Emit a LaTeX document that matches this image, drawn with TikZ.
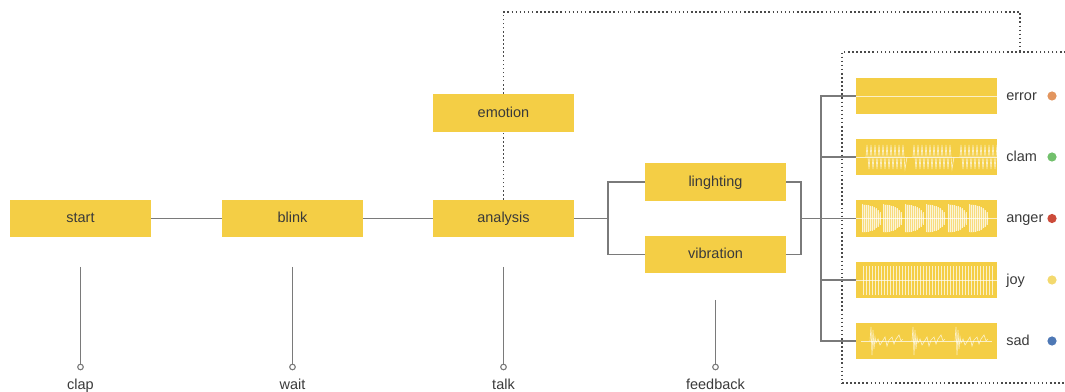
\documentclass[tikz,border=0pt]{standalone}
\usepackage{fontspec}
\setmainfont{Liberation Sans}
\usetikzlibrary{positioning,backgrounds}
\definecolor{boxyellow}{HTML}{F4CE45}
\definecolor{linegray}{HTML}{7A7A7A}
\definecolor{textgray}{HTML}{3A3A3A}
\definecolor{dotgray}{HTML}{4A4A4A}
\definecolor{dorange}{HTML}{E2955E}
\definecolor{dgreen}{HTML}{72C06C}
\definecolor{dred}{HTML}{CC4B3A}
\definecolor{dyellow}{HTML}{F3D96E}
\definecolor{dblue}{HTML}{4E78B5}

\begin{document}
\begin{tikzpicture}[x=0.025cm,y=-0.025cm,
  box/.style={fill=boxyellow,minimum width=3.525cm,minimum height=0.925cm,inner sep=0pt,
    text=textgray,font=\fontsize{10.3}{12}\selectfont,text height=1.5ex,text depth=.3ex},
  wavebox/.style={fill=boxyellow,minimum width=3.525cm,minimum height=0.9cm,inner sep=0pt},
  conn/.style={draw=linegray,line width=1.1pt},
  dotline/.style={draw=dotgray,line width=1.2pt,dash pattern=on 1.1pt off 1.8pt},
  pinend/.style={circle,draw=linegray,line width=0.8pt,fill=white,inner sep=0pt,minimum size=0.14cm},
  lbl/.style={text=textgray,font=\fontsize{10.3}{12}\selectfont,text height=1.5ex,text depth=.3ex,inner sep=0pt},
  wave/.style={draw=white,opacity=.7,line width=0.45pt},
  sig/.style={circle,inner sep=0pt,minimum size=0.23cm}]
\useasboundingbox (0,0) rectangle (1065,392);

% main chain
\node[box] (start) at (80.5,218.5) {start};
\node[box] (blink) at (292.5,218.5) {blink};
\node[box] (analysis) at (503.5,218.5) {analysis};
\node[box] (emotion) at (503.5,113) {emotion};
\node[box] (lighting) at (715.5,182) {linghting};
\node[box] (vibration) at (715.5,254.5) {vibration};

% output panel with the five patterns
\node[dotline,minimum width=6.2cm,minimum height=8.275cm] (panel) at (966,217.5) {};
\foreach \n/\c/\y in {error/dorange/96,clam/dgreen/157,anger/dred/218.5,joy/dyellow/280,sad/dblue/341}{
  \node[wavebox] (w\n) at (926.5,\y) {};
  \node[lbl,anchor=west] (l\n) at (1006,\y) {\n};
  \node[sig,fill=\c] (d\n) at (1052,\y) {};
}

% inputs under the chain
\foreach \src/\nm/\top in {start/clap/267,blink/wait/267,analysis/talk/267,vibration/feedback/300}{
  \coordinate (t\nm) at (\src.south |- 0,\top);
  \node[pinend] (p\nm) at (t\nm |- 0,367) {};
  \node[lbl] (\nm) at (p\nm |- 0,385) {\nm};
  \draw[conn] (t\nm) -- (p\nm);
}

\begin{scope}[on background layer]
\draw[conn] (start) -- (blink) -- (analysis);
\coordinate (splitL) at (608,218.5);
\coordinate (splitR) at (801,218.5);
\coordinate (trunk) at (821,218.5);
\draw[conn] (analysis) -- (splitL);
\draw[conn] (lighting.west) -| (splitL) |- (vibration.west);
\draw[conn] (lighting.east) -| (splitR) |- (vibration.east);
\draw[conn] (splitR) -- (wanger.west);
\foreach \n in {error,clam,joy,sad}
  \draw[conn] (w\n.west) -| (trunk);
% loop back from analysis to the panel
\coordinate (fb) at (1020,12);
\draw[dotline] (analysis.north) |- (fb) -- (fb |- panel.north);
\end{scope}

% waveforms
\draw[wave] (werror.west) -- (werror.east);
\draw[wave] (wclam.west) -- (wclam.east);
\foreach \b in {866,913,960}
  \draw[wave] (\b,157) \foreach \i in {0,...,9}{ -- ({\b+4*\i+1},145) -- ({\b+4*\i+3},169)} -- ({\b+41},157);
\draw[wave] (wanger.west) -- (wanger.east);
\foreach \k in {0,...,5}{
  \pgfmathsetmacro{\xo}{862+21.5*\k}
  \fill[white,opacity=.3] plot[variable=\t,domain=0:1,samples=12] ({\xo+19*\t},{218.5-14*sqrt(max(0,1-\t*\t))})
    -- plot[variable=\t,domain=1:0,samples=12] ({\xo+19*\t},{218.5+14*sqrt(max(0,1-\t*\t))}) -- cycle;
  \foreach \i [evaluate=\i as \a using {14*sqrt(max(0,1-(\i/10)^2))}] in {0,...,9}
    \draw[wave] ({\xo+2*\i},218.5-\a) -- ({\xo+2*\i},218.5+\a);
}
\draw[wave] (wjoy.west) -- (wjoy.east);
\foreach \i in {0,...,43}
  \draw[wave] ({863+3*\i},266) -- ++(0,29);
\draw[wave] ([xshift=4pt]wsad.west) -- ([xshift=-4pt]wsad.east);
\foreach \b in {870,912,955}
  \draw[wave] (\b,341) -- ++(1,-14) -- ++(1,28) -- ++(1,-25) -- ++(1,19) -- ++(1,-12) -- ++(1,6)
    -- ++(2,-4) -- ++(2,6) -- ++(2,-3) -- ++(3,-5) -- ++(2,9) -- ++(2,-6) -- ++(3,-3) -- ++(2,7)
    -- ++(2,-5) -- ++(3,-4) -- ++(2,6) -- ++(2,-2);
\end{tikzpicture}
\end{document}
